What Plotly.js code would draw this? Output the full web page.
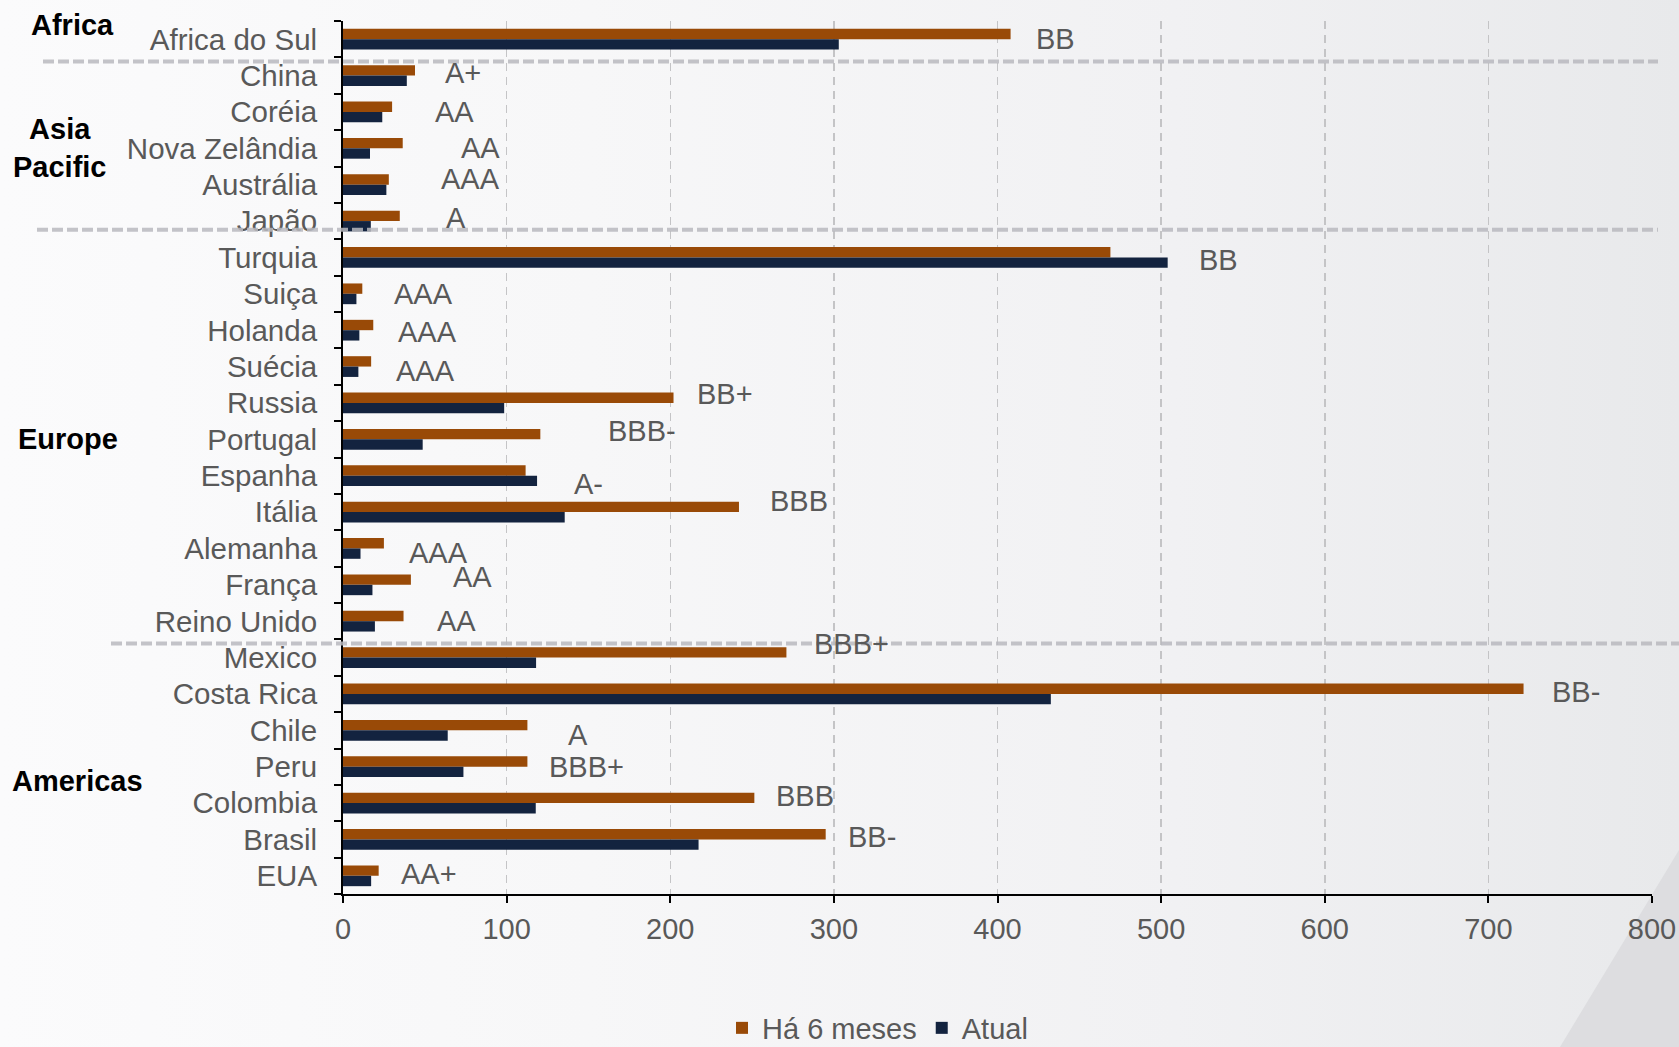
<!DOCTYPE html>
<html>
<head>
<meta charset="utf-8">
<script src="https://cdn.plot.ly/plotly-3.0.1.min.js"></script>
<style>
  html, body { margin: 0; padding: 0; }
  body {
    width: 1679px; height: 1047px; overflow: hidden;
    background: linear-gradient(to right, #fbfbfc 0%, #f7f7f8 35%, #f1f1f3 70%, #e8e9eb 100%);
  }
  #chart { width: 1679px; height: 1047px; }
</style>
</head>
<body>
<div id="chart"></div>
<script>
// ---- data ----
const categories = ['Africa do Sul','China','Coréia','Nova Zelândia','Austrália','Japão',
  'Turquia','Suiça','Holanda','Suécia','Russia','Portugal','Espanha','Itália','Alemanha','França','Reino Unido',
  'Mexico','Costa Rica','Chile','Peru','Colombia','Brasil','EUA'];
const prev6m = [408, 44, 30, 36.5, 28, 34.7,
  469, 11.8, 18.5, 17.2, 202, 120.6, 111.6, 242, 25, 41.5, 37,
  271, 721.5, 112.7, 112.7, 251.4, 295, 21.8];
const current = [303, 39, 24, 16.5, 26.5, 17,
  504, 8.2, 10, 9.4, 98.5, 48.7, 118.6, 135.5, 10.7, 18, 19.5,
  118, 432.6, 64, 73.6, 117.8, 217.3, 17.2];
const ratings = ['BB','A+','AA','AA','AAA','A',
  'BB','AAA','AAA','AAA','BB+','BBB-','A-','BBB','AAA','AA','AA',
  'BBB+','BB-','A','BBB+','BBB','BB-','AA+'];
const seriesNames = ['Há 6 meses', 'Atual'];
const regionNames = ['Africa', 'Asia<br>Pacific', 'Europe', 'Americas'];
const regionFirst = ['Africa do Sul', 'China', 'Turquia', 'Mexico'];
const regionLast  = ['Africa do Sul', 'Japão', 'Reino Unido', 'EUA'];
const xTicks = [0, 100, 200, 300, 400, 500, 600, 700, 800];

// ---- layout tweaks (label nudges in px, not data) ----
const labelShiftX = [23, 28, 41, 56, 50, 44, 29, 30, 23, 23, 21, 66, 35, 29, 23, 40, 31, 26, 26, 39, 20, 20, 20, 20];
const labelShiftY = [0, 3, 0, 0, 6, 3, -3, 0, -2, -4, 9, 8, -8, 11, -5, 8, 0, 14, 2, -5, 0, 7, 2, 2];
const regionNudge = [-0.4, 0, 0, 0.4];   // category-unit offset of region label from group centre
const regionX = [72, 60, 68, 77];        // px centre of region labels
const sepShift = [-4, 9.5, -4];          // px nudge of separators (positive = up)
const sepX0 = [43, 37, 111];
const sepX1 = [1658, 1658, 1679];

const FONT = 'Liberation Sans, Arial, sans-serif';
const GRAY = '#595959';
const ORANGE = '#994a07';
const NAVY = '#13233f';

const W = 1679, H = 1047;
const M = {l: 343, r: 27, t: 21, b: 153};
const plotW = W - M.l - M.r;
const plotH = H - M.t - M.b;

const traces = [
  {type: 'bar', orientation: 'h', name: seriesNames[0], y: categories, x: prev6m,
   marker: {color: ORANGE, line: {width: 0}}},
  {type: 'bar', orientation: 'h', name: seriesNames[1], y: categories, x: current,
   marker: {color: NAVY, line: {width: 0}}}
];

const annotations = [];
categories.forEach((c, i) => {
  annotations.push({
    x: Math.max(prev6m[i], current[i]), y: i, xref: 'x', yref: 'y',
    text: ratings[i], showarrow: false, xanchor: 'left', yanchor: 'middle',
    xshift: labelShiftX[i], yshift: labelShiftY[i],
    font: {family: FONT, size: 29, color: GRAY}
  });
});
regionNames.forEach((r, k) => {
  const a = categories.indexOf(regionFirst[k]);
  const b = categories.indexOf(regionLast[k]);
  annotations.push({
    x: (regionX[k] - M.l) / plotW, xref: 'paper', y: (a + b) / 2 + regionNudge[k], yref: 'y',
    text: '<b>' + r + '</b>', showarrow: false, xanchor: 'center', yanchor: 'middle',
    font: {family: FONT, size: 29, color: '#000000'}
  });
});

// separators between regions (at category boundaries)
const shapes = [];
for (let k = 1; k < regionFirst.length; k++) {
  const idx = categories.indexOf(regionFirst[k]) - 0.5;
  shapes.push({
    type: 'line', layer: 'above', xref: 'paper', yref: 'y',
    ysizemode: 'pixel', yanchor: idx,
    x0: (sepX0[k - 1] - M.l) / plotW, x1: (sepX1[k - 1] - M.l) / plotW,
    y0: sepShift[k - 1], y1: sepShift[k - 1],
    line: {color: 'rgba(185,185,190,0.85)', width: 4, dash: '11px,4px'}
  });
}
// bottom-right darker corner
const px2x = (p) => (p - M.l) / plotW;
const py2y = (p) => (H - M.b - p) / plotH;
shapes.push({
  type: 'path', layer: 'below', xref: 'paper', yref: 'paper',
  path: 'M ' + px2x(1679) + ',' + py2y(850) + ' L ' + px2x(1679) + ',' + py2y(1047) +
        ' L ' + px2x(1560) + ',' + py2y(1047) + ' Z',
  fillcolor: '#dddde0', line: {width: 0}
});

const layout = {
  width: W, height: H,
  margin: M,
  paper_bgcolor: 'rgba(0,0,0,0)',
  plot_bgcolor: 'rgba(0,0,0,0)',
  barmode: 'group', bargap: 0.43, bargroupgap: 0,
  font: {family: FONT, size: 29, color: GRAY},
  showlegend: true,
  legend: {
    orientation: 'h', xref: 'container', yref: 'container',
    x: 722 / W, xanchor: 'left',
    y: 1 - 1028 / H, yanchor: 'middle',
    font: {family: FONT, size: 29, color: GRAY}, bgcolor: 'rgba(0,0,0,0)',
    traceorder: 'normal', itemwidth: 30
  },
  xaxis: {
    range: [0, 800], autorange: false, tickvals: xTicks, ticktext: xTicks.map(String),
    showgrid: true, gridcolor: '#c4c4c6', gridwidth: 1.5, griddash: '8px,6px',
    zeroline: false, showline: true, linecolor: '#000000', linewidth: 2,
    ticks: 'outside', ticklen: 7, tickwidth: 2, tickcolor: '#000000',
    ticklabelstandoff: 1,
    tickfont: {family: FONT, size: 29, color: GRAY}, fixedrange: true
  },
  yaxis: {
    type: 'category', autorange: false, range: [categories.length - 0.5, -0.5],
    tickmode: 'array', tickvals: categories, ticktext: categories,
    showgrid: false, zeroline: false, showline: true, linecolor: '#000000', linewidth: 2,
    ticks: 'outside', tickson: 'boundaries', ticklen: 7, tickwidth: 2, tickcolor: '#000000',
    ticklabelstandoff: 18,
    tickfont: {family: FONT, size: 29.5, color: GRAY}, fixedrange: true
  },
  annotations: annotations,
  shapes: shapes,
  hovermode: false
};

Plotly.newPlot('chart', traces, layout, {staticPlot: true, displayModeBar: false});
</script>
</body>
</html>
